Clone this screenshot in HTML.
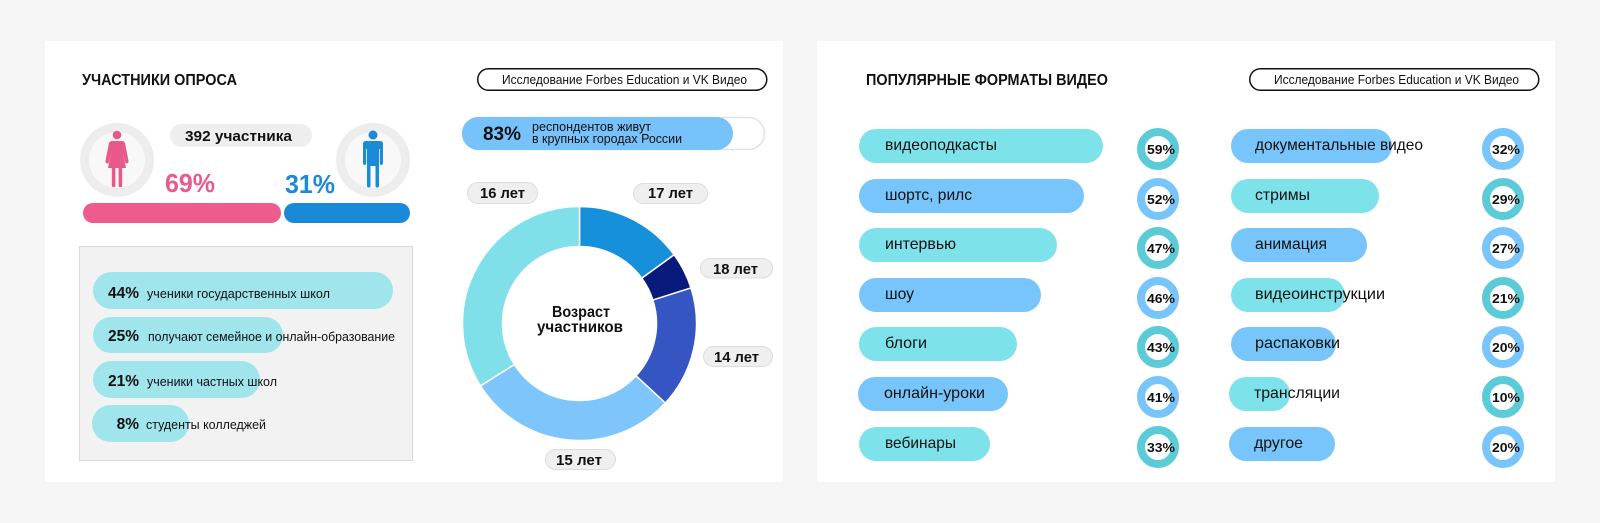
<!DOCTYPE html>
<html><head><meta charset="utf-8"><style>
html,body{margin:0;padding:0;background:#f5f5f5;}
svg{display:block;}
text{font-family:"Liberation Sans","Noto Sans CJK SC",sans-serif;fill:#111;}
.b{font-weight:bold;}
</style></head><body>
<svg width="1600" height="523" viewBox="0 0 1600 523" xmlns="http://www.w3.org/2000/svg">
<rect x="0" y="0" width="1600" height="523" fill="#f5f5f5"/>
<rect x="45" y="41" width="738" height="441" fill="#ffffff"/>
<rect x="817" y="41" width="738" height="441" fill="#ffffff"/>

<!-- LEFT PANEL -->
<text class="b" x="82" y="85" font-size="16" textLength="155" lengthAdjust="spacingAndGlyphs">УЧАСТНИКИ ОПРОСА</text>
<rect x="477.75" y="68.75" width="289" height="21.5" rx="10.75" fill="#fff" stroke="#111" stroke-width="1.5"/>
<text x="502" y="84" font-size="12.5" textLength="245" lengthAdjust="spacingAndGlyphs">Исследование Forbes Education и VK Видео</text>

<!-- gender -->
<circle cx="117" cy="160" r="37" fill="#ededed"/>
<circle cx="117" cy="160" r="28" fill="#f8f8f8"/>
<circle cx="373" cy="160" r="37" fill="#ededed"/>
<circle cx="373" cy="160" r="28" fill="#f8f8f8"/>
<g fill="#e9588b">
<circle cx="117" cy="135" r="4.3"/>
<path d="M112,141 L122,141 Q124,141 125,143 L128.5,161 Q128.8,163 127,163.5 Q125.5,163.8 125,162 L122.5,151 L126,168 L108,168 L111.5,151 L109,162 Q108.5,163.8 107,163.5 Q105.2,163 105.5,161 L109,143 Q110,141 112,141 Z"/>
<rect x="111.8" y="167" width="3.6" height="20" rx="1"/>
<rect x="118.6" y="167" width="3.6" height="20" rx="1"/>
</g>
<g fill="#1b8ad7">
<circle cx="373" cy="135" r="4.5"/>
<path d="M366,141 L380,141 Q383,141 383,144 L383,163 Q383,165 381.3,165 Q379.8,165 379.8,163 L379.8,149 L379,149 L379,186 Q379,187.5 377.2,187.5 Q375.5,187.5 375.5,186 L375.5,166 L370.5,166 L370.5,186 Q370.5,187.5 368.8,187.5 Q367,187.5 367,186 L367,149 L366.2,149 L366.2,163 Q366.2,165 364.7,165 Q363,165 363,163 L363,144 Q363,141 366,141 Z"/>
</g>
<rect x="170" y="124" width="142" height="23" rx="11.5" fill="#eeeeee"/>
<text class="b" x="185" y="141" font-size="15" textLength="107" lengthAdjust="spacingAndGlyphs">392 участника</text>
<text class="b" x="165" y="192" font-size="26" textLength="50" lengthAdjust="spacingAndGlyphs" style="fill:#ea5a8c">69%</text>
<text class="b" x="285" y="193" font-size="26" textLength="50" lengthAdjust="spacingAndGlyphs" style="fill:#1b8ad7">31%</text>
<rect x="83" y="203" width="198" height="20" rx="10" fill="#ee5b8d"/>
<rect x="284" y="203" width="126" height="20" rx="10" fill="#1a8ad8"/>

<!-- schools box -->
<rect x="79.5" y="246.5" width="333" height="214" fill="#f2f2f2" stroke="#d9d9d9" stroke-width="1"/>
<g fill="#a0e5eb">
<rect x="93" y="272" width="300" height="37" rx="18.5"/>
<rect x="93" y="317" width="190" height="36" rx="18"/>
<rect x="93" y="361" width="167" height="37" rx="18.5"/>
<rect x="92" y="405" width="97" height="37" rx="18.5"/>
</g>
<text class="b" x="139" y="298" font-size="15.5" text-anchor="end">44%</text>
<text class="b" x="139" y="341" font-size="15.5" text-anchor="end">25%</text>
<text class="b" x="139" y="386" font-size="15.5" text-anchor="end">21%</text>
<text class="b" x="139" y="429" font-size="15.5" text-anchor="end">8%</text>
<text x="147" y="298" font-size="13" textLength="183" lengthAdjust="spacingAndGlyphs">ученики государственных школ</text>
<text x="148" y="341" font-size="13" textLength="247" lengthAdjust="spacingAndGlyphs">получают семейное и онлайн-образование</text>
<text x="147" y="386" font-size="13" textLength="130" lengthAdjust="spacingAndGlyphs">ученики частных школ</text>
<text x="146" y="429" font-size="13" textLength="120" lengthAdjust="spacingAndGlyphs">студенты колледжей</text>

<!-- 83% -->
<rect x="462.5" y="117.5" width="302" height="32" rx="16" fill="#fff" stroke="#e2e2e2" stroke-width="1.5"/>
<rect x="462" y="117" width="271" height="33" rx="16.5" fill="#78c2fb"/>
<text class="b" x="483" y="140" font-size="19" textLength="38" lengthAdjust="spacingAndGlyphs">83%</text>
<text x="532" y="131" font-size="12.5" textLength="119" lengthAdjust="spacingAndGlyphs">респондентов живут</text>
<text x="532" y="143" font-size="12.5" textLength="150" lengthAdjust="spacingAndGlyphs">в крупных городах России</text>

<!-- donut -->
<g stroke="#ffffff" stroke-width="1.5">
<path fill="#1790dc" d="M579.5,206.5 A117,117 0 0 1 674.15,254.73 L641.79,278.24 A77,77 0 0 0 579.5,246.5 Z"/>
<path fill="#081b7c" d="M674.15,254.73 A117,117 0 0 1 690.97,287.93 L652.86,300.09 A77,77 0 0 0 641.79,278.24 Z"/>
<path fill="#3556c2" d="M690.97,287.93 A117,117 0 0 1 665.34,402.99 L635.99,375.81 A77,77 0 0 0 652.86,300.09 Z"/>
<path fill="#7dc5fb" d="M665.34,402.99 A117,117 0 0 1 480.49,385.85 L514.34,364.53 A77,77 0 0 0 635.99,375.81 Z"/>
<path fill="#7fe0ea" d="M480.49,385.85 A117,117 0 0 1 579.5,206.5 L579.5,246.5 A77,77 0 0 0 514.34,364.53 Z"/>
</g>
<text class="b" x="552" y="317" font-size="16" textLength="58" lengthAdjust="spacingAndGlyphs">Возраст</text>
<text class="b" x="537" y="332" font-size="16" textLength="86" lengthAdjust="spacingAndGlyphs">участников</text>

<g fill="#efefef" stroke="#dcdcdc" stroke-width="1">
<rect x="467.5" y="182.5" width="70" height="21" rx="10.5"/>
<rect x="633.5" y="183.5" width="74" height="20" rx="10"/>
<rect x="700.5" y="258.5" width="72" height="19.5" rx="9.75"/>
<rect x="703.5" y="346.5" width="69" height="20" rx="10"/>
<rect x="545.5" y="449.5" width="70" height="20" rx="10"/>
</g>
<text class="b" x="480" y="198" font-size="15" textLength="45" lengthAdjust="spacingAndGlyphs">16 лет</text>
<text class="b" x="648" y="198" font-size="15" textLength="45" lengthAdjust="spacingAndGlyphs">17 лет</text>
<text class="b" x="713" y="274" font-size="15" textLength="45" lengthAdjust="spacingAndGlyphs">18 лет</text>
<text class="b" x="714" y="362" font-size="15" textLength="45" lengthAdjust="spacingAndGlyphs">14 лет</text>
<text class="b" x="556" y="465" font-size="15" textLength="46" lengthAdjust="spacingAndGlyphs">15 лет</text>

<!-- RIGHT PANEL -->
<text class="b" x="866" y="85" font-size="16" textLength="242" lengthAdjust="spacingAndGlyphs">ПОПУЛЯРНЫЕ ФОРМАТЫ ВИДЕО</text>
<rect x="1249.75" y="68.75" width="289" height="21.5" rx="10.75" fill="#fff" stroke="#111" stroke-width="1.5"/>
<text x="1274" y="84" font-size="12.5" textLength="245" lengthAdjust="spacingAndGlyphs">Исследование Forbes Education и VK Видео</text>

<!-- left column bars -->
<rect x="859" y="129" width="244" height="34" rx="17" fill="#7de2ea"/>
<rect x="859" y="179" width="225" height="34" rx="17" fill="#78c5fb"/>
<rect x="859" y="228" width="198" height="34" rx="17" fill="#7de2ea"/>
<rect x="859" y="278" width="182" height="34" rx="17" fill="#78c5fb"/>
<rect x="859" y="327" width="158" height="34" rx="17" fill="#7de2ea"/>
<rect x="858" y="377" width="150" height="34" rx="17" fill="#78c5fb"/>
<rect x="859" y="427" width="131" height="34" rx="17" fill="#7de2ea"/>
<text x="885" y="150" font-size="16" textLength="112" lengthAdjust="spacingAndGlyphs">видеоподкасты</text>
<text x="885" y="200" font-size="16" textLength="87" lengthAdjust="spacingAndGlyphs">шортс, рилс</text>
<text x="885" y="249" font-size="16" textLength="71" lengthAdjust="spacingAndGlyphs">интервью</text>
<text x="885" y="299" font-size="16" textLength="29" lengthAdjust="spacingAndGlyphs">шоу</text>
<text x="885" y="348" font-size="16" textLength="42" lengthAdjust="spacingAndGlyphs">блоги</text>
<text x="884" y="398" font-size="16" textLength="101" lengthAdjust="spacingAndGlyphs">онлайн-уроки</text>
<text x="885" y="448" font-size="16" textLength="71" lengthAdjust="spacingAndGlyphs">вебинары</text>

<g fill="none" stroke-width="8">
<circle cx="1158" cy="149" r="17" stroke="#5ccbd8"/>
<circle cx="1158" cy="199" r="17" stroke="#78c5fb"/>
<circle cx="1158" cy="248" r="17" stroke="#5ccbd8"/>
<circle cx="1158" cy="298" r="17" stroke="#78c5fb"/>
<circle cx="1158" cy="347" r="17" stroke="#5ccbd8"/>
<circle cx="1158" cy="397" r="17" stroke="#78c5fb"/>
<circle cx="1158" cy="447" r="17" stroke="#5ccbd8"/>
<circle cx="1503" cy="149" r="17" stroke="#78c5fb"/>
<circle cx="1503" cy="199" r="17" stroke="#5ccbd8"/>
<circle cx="1503" cy="248" r="17" stroke="#78c5fb"/>
<circle cx="1503" cy="298" r="17" stroke="#5ccbd8"/>
<circle cx="1503" cy="347" r="17" stroke="#78c5fb"/>
<circle cx="1503" cy="397" r="17" stroke="#5ccbd8"/>
<circle cx="1503" cy="447" r="17" stroke="#78c5fb"/>
</g>
<g class="b" font-size="13" font-weight="bold">
<text x="1147" y="154" textLength="28" lengthAdjust="spacingAndGlyphs">59%</text>
<text x="1147" y="204" textLength="28" lengthAdjust="spacingAndGlyphs">52%</text>
<text x="1147" y="253" textLength="28" lengthAdjust="spacingAndGlyphs">47%</text>
<text x="1147" y="303" textLength="28" lengthAdjust="spacingAndGlyphs">46%</text>
<text x="1147" y="352" textLength="28" lengthAdjust="spacingAndGlyphs">43%</text>
<text x="1147" y="402" textLength="28" lengthAdjust="spacingAndGlyphs">41%</text>
<text x="1147" y="452" textLength="28" lengthAdjust="spacingAndGlyphs">33%</text>
<text x="1492" y="154" textLength="28" lengthAdjust="spacingAndGlyphs">32%</text>
<text x="1492" y="204" textLength="28" lengthAdjust="spacingAndGlyphs">29%</text>
<text x="1492" y="253" textLength="28" lengthAdjust="spacingAndGlyphs">27%</text>
<text x="1492" y="303" textLength="28" lengthAdjust="spacingAndGlyphs">21%</text>
<text x="1492" y="352" textLength="28" lengthAdjust="spacingAndGlyphs">20%</text>
<text x="1492" y="402" textLength="28" lengthAdjust="spacingAndGlyphs">10%</text>
<text x="1492" y="452" textLength="28" lengthAdjust="spacingAndGlyphs">20%</text>
</g>

<!-- right column bars -->
<rect x="1231" y="129" width="161" height="34" rx="17" fill="#78c5fb"/>
<rect x="1231" y="179" width="148" height="34" rx="17" fill="#7de2ea"/>
<rect x="1231" y="228" width="136" height="34" rx="17" fill="#78c5fb"/>
<rect x="1231" y="278" width="114" height="34" rx="17" fill="#7de2ea"/>
<rect x="1231" y="327" width="105" height="34" rx="17" fill="#78c5fb"/>
<rect x="1229" y="377" width="61" height="34" rx="17" fill="#7de2ea"/>
<rect x="1229" y="427" width="106" height="34" rx="17" fill="#78c5fb"/>
<text x="1255" y="150" font-size="16" textLength="168" lengthAdjust="spacingAndGlyphs">документальные видео</text>
<text x="1255" y="200" font-size="16" textLength="55" lengthAdjust="spacingAndGlyphs">стримы</text>
<text x="1255" y="249" font-size="16" textLength="72" lengthAdjust="spacingAndGlyphs">анимация</text>
<text x="1255" y="299" font-size="16" textLength="130" lengthAdjust="spacingAndGlyphs">видеоинструкции</text>
<text x="1255" y="348" font-size="16" textLength="85" lengthAdjust="spacingAndGlyphs">распаковки</text>
<text x="1254" y="398" font-size="16" textLength="86" lengthAdjust="spacingAndGlyphs">трансляции</text>
<text x="1254" y="448" font-size="16" textLength="49" lengthAdjust="spacingAndGlyphs">другое</text>
</svg>
</body></html>
